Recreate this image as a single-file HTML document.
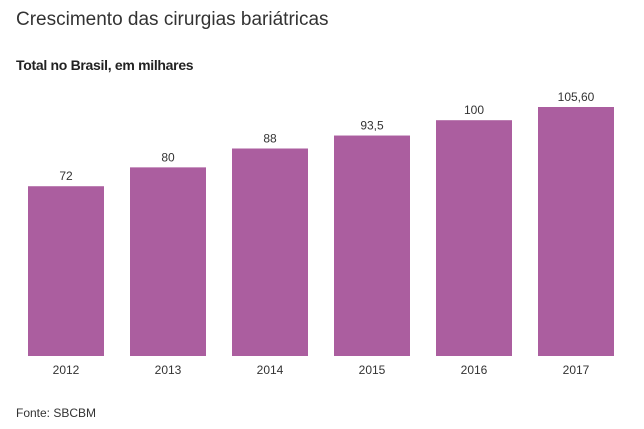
<!DOCTYPE html>
<html><head><meta charset="utf-8">
<style>
body{margin:0;background:#fff;width:644px;height:429px;overflow:hidden;font-family:"Liberation Sans",sans-serif;}
#title{position:absolute;left:16px;top:9px;font-size:19px;color:#333;}
#sub{position:absolute;left:16px;top:57px;font-size:14px;font-weight:bold;color:#222;letter-spacing:-0.3px;}
#src{position:absolute;left:16px;top:406px;font-size:12px;color:#333;}
svg{position:absolute;left:0;top:0;}
</style></head><body>
<div id="title">Crescimento das cirurgias bariátricas</div>
<div id="sub">Total no Brasil, em milhares</div>
<svg id="chart" width="644" height="429"></svg>
<div id="src">Fonte: SBCBM</div>
<script>
const categories=["2012","2013","2014","2015","2016","2017"];
const values=[72,80,88,93.5,100,105.6];
const valueLabels=["72","80","88","93,5","100","105,60"];
const svg=document.getElementById('chart');
const NS="http://www.w3.org/2000/svg";
const base=356, scale=249/105.6;
const y=v=>base-v*scale;
const x=i=>28+i*102;
const bw=76;
categories.forEach((c,i)=>{
  const r=document.createElementNS(NS,'rect');
  r.setAttribute('x',x(i));r.setAttribute('y',y(values[i]));
  r.setAttribute('width',bw);r.setAttribute('height',base-y(values[i]));
  r.setAttribute('fill','#ab5e9f');
  
  
  svg.appendChild(r);
  const t=document.createElementNS(NS,'text');
  t.setAttribute('x',x(i)+bw/2);t.setAttribute('y',y(values[i])-6);
  t.setAttribute('text-anchor','middle');t.setAttribute('font-size','12');t.setAttribute('fill','#333');
  t.textContent=valueLabels[i];
  
  
  svg.appendChild(t);
  const l=document.createElementNS(NS,'text');
  l.setAttribute('x',x(i)+bw/2);l.setAttribute('y',374);
  l.setAttribute('text-anchor','middle');l.setAttribute('font-size','12');l.setAttribute('fill','#333');
  l.textContent=c;
  
  
  svg.appendChild(l);
});
</script>
</body></html>
